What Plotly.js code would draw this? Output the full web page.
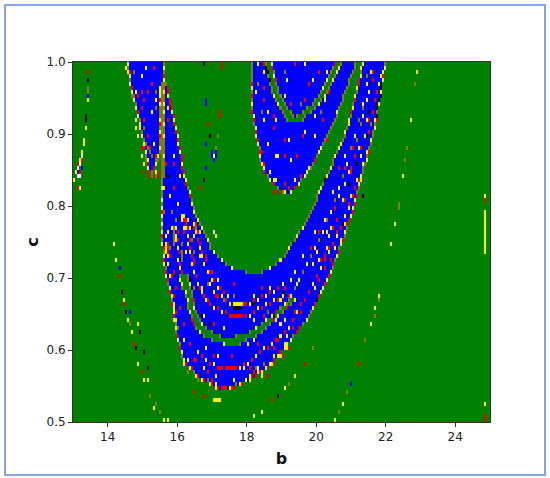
<!DOCTYPE html>
<html>
<head>
<meta charset="utf-8">
<script src="https://cdn.plot.ly/plotly-3.0.1.min.js"></script>
<style>
  html, body { margin: 0; padding: 0; background: #fff; }
  #frame { position: absolute; left: 4px; top: 4px; width: 538px; height: 468px; border: 2px solid #86a3e2; }
  #chart { position: absolute; left: 0; top: 0; width: 550px; height: 478px; }
</style>
</head>
<body>
<div id="chart"></div>
<div id="frame"></div>
<script>
// regime map: cell grid over b 13..25, c 1.0..0.5
const colCount = 208;
const rowCount = 90;
const bStart = 13, bEnd = 25;
const cTop = 1.0, cBottom = 0.5;

// state 0 green, 1 blue, 2 yellow, 3 red, 4 olive, 5 black, 6 white
const stateColours = ["#008000", "#0000ff", "#f4f400", "#f00000", "#808000", "#000000", "#ffffff"];
const edgeLetters = { Y: 2, R: 3, O: 4, K: 5 };

// blue runs (first-last column) of each row, top row first
const blueRuns = [
  "27-45 89-96 99-130 133-140 144-155",
  "27-45 89-96 99-129 132-140 143-155",
  "27-45 89-97 100-128 131-139 143-154",
  "28-45 89-97 100-127 130-138 143-154",
  "28-45 89-98 101-126 129-137 142-154",
  "28-44 45-46 89-98 101-125 128-137 142-153",
  "29-43 45-47 89-99 102-124 127-136 141-153",
  "29-43 45-47 89-99 102-123 126-135 141-153",
  "30-43 45-47 89-100 103-122 125-134 140-153",
  "30-43 45-48 89-101 104-120 123-134 140-152",
  "31-43 45-48 89-102 105-119 122-133 139-152",
  "31-43 45-49 89-103 106-116 120-132 139-151",
  "32-43 45-49 89-104 108-114 118-131 138-151",
  "32-43 45-50 90-105 109-111 115-131 138-151",
  "33-43 45-50 90-106 114-130 137-151",
  "33-43 45-50 90-129 137-150",
  "33-43 45-51 91-128 136-150",
  "34-43 45-51 91-127 135-149",
  "34-43 45-52 91-126 135-149",
  "35-43 45-52 92-125 134-148",
  "35-43 45-52 92-124 133-148",
  "35-43 45-53 93-123 132-147",
  "36-43 45-53 93-122 131-147",
  "36-42 45-54 93-121 130-146",
  "37-42 45-54 93-120 129-146",
  "37-41 45-54 94-119 129-145",
  "37-40 45-54 95-118 128-144",
  "38-39 41-42 45-55 95-116 127-144",
  "38-39 41-42 45-55 97-115 126-143",
  "44-56 98-113 125-143",
  "44-56 100-112 124-142",
  "44-57 102-110 123-142",
  "44-58 104-108 122-141",
  "44-58 121-141",
  "44-59 121-140",
  "44-59 120-140",
  "44-60 119-139",
  "44-60 118-139",
  "44-61 117-138",
  "44-62 116-137",
  "44-63 115-136",
  "44-64 114-136",
  "44-65 112-135",
  "44-66 111-135",
  "44-67 110-134",
  "44-68 108-133",
  "45-68 107-132",
  "45-70 106-132",
  "45-72 105-131",
  "45-74 103-130",
  "45-76 101-129",
  "46-79 98-129",
  "46-86 94-128",
  "46-53 57-127",
  "47-53 57-126",
  "47-54 58-125",
  "48-54 58-124",
  "48-56 59-123",
  "49-56 59-122",
  "49-57 60-107 110-121",
  "49-57 60-105 108-120",
  "50-57 60-103 106-119",
  "50-58 61-101 104-118",
  "50-59 62-99 102-117",
  "50-59 63-96 100-116",
  "51-60 64-94 98-114",
  "51-61 66-91 96-112",
  "51-63 69-88 94-111",
  "52-65 73-81 91-109",
  "52-69 86-108",
  "53-75 83-106",
  "53-105",
  "54-103",
  "54-102",
  "55-100",
  "56-98",
  "58-96",
  "60-94",
  "62-91",
  "65-88",
  "68-84",
  "72-80"
];

// colour of the end cells of each run above, in order, read along the blue edges
const edgeColours = [
  "YO OO YR OO YO", "OY OK RO YO YY", "YO OK OO YO OY", "YR OO YO OO YK",
  "OY OK RY YO RY", "YO OO RO OO OO RK", "RY OR YO OY OO YK", "YO YR OO OO OO OY",
  "OY OY RY OO YO YK", "YR OR OO OO OO RK", "OY YR YY OO YO OY", "YO OR OO OO OO YK",
  "RO YY RO OO OY RO", "YO OR YO OO OO OK", "OY OY RO OO YK", "YR YR OO YO YK",
  "YO OY YO OY RY", "OY OR RO YO OK", "YR YY YO OO YK", "OO OR RO OY OK",
  "YO OY YO YO RY", "RY OR OY YO YK", "YO OY RY OY OY", "OY YR YO YO OK",
  "YO OR OY OY YK", "RY OY YO OO RK", "YR OR YO YO OY", "RO YR OR RY OO YK",
  "RO OR OY OY YK", "OY YO KY YY", "OR RY OY OK", "YO OR YO OY",
  "OY OY YO YO YK", "OR OY YK", "YO OY YO", "OY OR OY",
  "YO OY YO", "RY OR OK", "YO OY OY", "OY OR YK",
  "YO OR OY", "OY YO OY", "YO OY OK", "RO YO YY",
  "OY OR OK", "YO OY OY", "RO YO OY", "OY OR YK",
  "YO OY OY", "RY YO OK", "YO OR YK", "OY YO OY",
  "RO OY YK", "YO OR OK", "RY OY YK", "OY YR OY",
  "YO OY OK", "RY OY YK", "YO OR OY", "OY YO YK OY",
  "RO OY OR OK", "YO YO RY YY", "OY OR OO OK", "RO OY YO YK",
  "YO OY RY OY", "OR YO OO YK", "YO OY OY YR", "OY OO OR YK",
  "RO OO OO OY", "YO OY OK", "OY OY YK", "RY YK",
  "YO RK", "OY YK", "YR OR", "RY YK", "YO RK", "RY YK",
  "YR YK", "RY OR", "YO YK", "RR"
];

const yellowCells = "0,29 2,26 3,24 4,22 1,27 3,31 5,19 5,20 7,9 6,16 26,1 36,1 34,3 31,7 43,7 29,8 41,9 39,12 31,14 31,16 32,18 40,20 34,23 35,25 " +
  "47,11 50,23 53,28 45,31 48,33 52,35 49,37 54,38 57,39 60,40 58,41 63,42 49,41 47,42 " +
  "92,0 95,2 91,7 100,8 97,12 95,14 97,20 102,23 98,27 100,29 102,32 115,0 106,4 119,4 126,2 105,8 113,10 125,9 120,13 101,14 115,17 120,18 107,19 101,23 108,24 122,22 117,26 110,29 101,29 105,32 " +
  "146,5 152,5 147,7 146,9 144,11 144,13 143,15 141,19 145,18 143,23 135,23 144,25 143,28 135,30 129,32 132,33 137,36 135,40 125,39 120,42 127,43 126,42 130,46 121,47 114,48 119,50 110,52 108,54 120,56 111,55 103,59 105,64 101,64 103,65 106,68 105,70 " +
  "46,43 47,50 48,56 50,60 51,64 52,66 55,69 57,74 65,76 65,79 71,80 80,79 86,79 85,76 92,76 54,45 60,43 56,47 63,48 65,50 72,54 68,55 64,56 75,59 90,58 98,56 100,59 90,64 65,63 75,66 66,71 72,73 87,70 90,69 100,73 64,73 71,78 94,78 " +
  "80-84,60 70,57 74,58 78,60 88,60 92,59 96,58 100,57 104,55 66,59 70,61 74,62 88,63 92,61 96,60 100,59 104,58 62,72 66,74 70,75 83,76 87,75 91,73 95,71 99,70 103,68 107,66 111,62 115,59 119,55 123,51 127,47 131,43 135,38 " +
  "108,58 112,54 116,50 120,46 124,42 128,37 132,31 136,25 140,18 144,10 " +
  "70-73,84 70,42 71,43 20,45 21,49 25,59 27,64 29,67 32,75 35,79 40,86 45,89 32,65 37,79 47,89 90,88 94,87 105,81 110,78 130,89 134,85 142,75 148,65 150,61 152,58 158,45 160,40 " +
  "205,37-47 205,33 205,85 205,88 164,28 168,14 171,2 " +
  // stripes down the left arm of the big U, broken into dots
  "51,41 51,43-44 52,46 52,49 53,51 55,38-39 55,41 57,43 57,45 58,47 59,50 60,52 62,55 64,57 66,59 60,40 61,42 62,44 63,46 64,48 65,50 67,52 69,54 72,56 77,58 " +
  "46,45-47 47,48 48,53 49,58 50,62 54,39 56,41 " +
  // outer band round the bottom of the U
  "55,75 58,76 61,78 64,79 68,80 71,81 78,81 83,80 88,78 92,77 96,76 99,75 103,73 106,71 " +
  // right arm of the U, dense spots
  "148,2 153,3 150,14 146,14 142,21 146,22 137,27 141,29 134,34 138,33 128,41 133,44 126,46 122,49";
const redCells = "2,25 3,27 4,24 2,31 7,2 28,2 40,1 39,5 34,7 37,7 32,8 35,9 34,11 35,14 37,18 38,21 34,21 41,23 40,26 35,27 " +
  "47,14 50,25 46,25 50,31 60,41 55,42 " +
  "95,0 92,5 95,6 95,9 94,12 100,13 100,16 94,22 95,25 100,32 110,0 105,2 117,5 122,2 127,7 108,10 115,9 123,12 124,14 100,16 114,18 105,19 126,19 105,23 111,23 120,24 113,28 105,30 102,32 107,31 " +
  "149,4 151,7 150,9 149,12 148,15 147,17 139,21 140,23 138,26 135,26 132,26 140,31 141,33 130,36 131,39 122,42 131,42 118,46 125,48 128,49 125,51 122,54 105,56 107,58 115,59 110,62 113,62 109,66 112,66 102,69 100,71 " +
  "48,46 50,52 51,56 53,61 55,65 58,70 61,74 62,79 69,79 76,81 84,80 90,77 88,76 58,44 62,44 60,49 66,48 69,52 80,55 60,56 71,58 80,58 85,60 94,56 95,63 97,62 60,59 70,65 59,64 70,73 79,73 92,70 103,72 67,77 77,76 97,78 60,74 " +
  "78-84,63 72,58 76,59 86,60 90,59 94,58 98,57 102,56 68,60 72,61 76,62 86,63 90,62 94,61 98,60 102,59 64,73 68,75 72-74,76 76-81,76 85,75 89,74 93,72 97,71 101,69 105,67 109,64 113,60 117,57 121,53 125,49 129,45 133,41 137,35 " +
  "73,12-13 74,0-1 67,15 63,31 60,82 65,83 23,53 25,60 30,70 34,77 115,75 99,84 142,75 205,34 205,88-89 " +
  "52,42 52,44 53,47 53,50 54,52 56,39-40 58,44 58,46 59,48 60,50 61,53 63,56 65,58 67,59 61,40 62,42 63,45 64,47 66,49 68,52 70,54 73,56 75,57 " +
  "47,45-47 48,48 49,53 50,58 51,62 55,39 57,41 " +
  "56,75 59,76 62,78 65,79 69,80 74-75,81 79,81 84,80 89,78 93,77 97,76 100,75 104,73 107,71 " +
  "149,2 154,3 151,14 147,14 143,21 147,22 138,27 142,29 135,34 139,33 129,41 134,44 127,46 123,49";
const oliveCells = "44,6-29 7,6-7 30,2 41,7 29,8 45,37 51,39 61,41 47,28 49,37 " +
  "36,20 37,21 38,22 39,23 36,24 41,24 35,16 41,11 " +
  "92,5 94,12 105,2 113,10 123,12 143,15 148,15 144,11 141,19 " +
  "48,46 54,45 60,56 80,58 97,62 75,59 52,66 62,79 " +
  "106,60 110,56 114,52 118,48 122,44 126,39 130,34 134,28 138,21 142,14 146,3 72,18 71,21 170,5 166,21 165,24 162,35 162,36 136,82 150,63 152,59 145,69 132,87 119,71 102,83 107,80 28,65 38,83 43,87 41,85 " +
  "50,41-45 54,47-49 59,44 60,47 67,55 57,77 60,77 67,79 81,80 91,76 95,75";
const blackCells = "6,13-14 7,4 65,0 68,18 65,29 24,57 26,62 31,71 33,67 35,72 37,76 102,83 47,28 104,57 147,12 144,33 " +
  "151,10 146,18 141,25 137,30 134,40 58,54 68,65 80,61 81,61 82,61 83,61 64,63 100,63 90,60";
const whiteCells = "2,26 2,28 3,28 3,25 4,23 70,23 70,42";
const blueCells = "66,9-10 66,20 66,26 69,22 71,22 69,23 71,23 70,24 7,8 23,51 28,62 138,80 2,27 4,26";

const colourLists = [[1, blueCells], [2, yellowCells], [3, redCells], [4, oliveCells], [5, blackCells], [6, whiteCells]];

const dB = (bEnd - bStart) / colCount;
const dC = (cTop - cBottom) / rowCount;
const bCells = Array.from({ length: colCount }, (_, k) => bStart + (k + 0.5) * dB);
const cCells = Array.from({ length: rowCount }, (_, r) => cTop - (r + 0.5) * dC);

const z = cCells.map(() => new Array(colCount).fill(0));

blueRuns.forEach((row, r) => {
    const ends = edgeColours[r].replace(/ /g, "");
    row.split(" ").forEach((run, i) => {
        const [a, b] = run.split("-").map(Number);
        for (let k = a; k <= b; k++) z[r][k] = 1;
        if (ends[2 * i]) z[r][a] = edgeLetters[ends[2 * i]];
        if (ends[2 * i + 1]) z[r][b] = edgeLetters[ends[2 * i + 1]];
    });
});

function span(text) {
    const [a, b] = text.split("-").map(Number);
    return [a, b === undefined ? a : b];
}

colourLists.forEach(([state, cells]) => {
    cells.trim().split(/\s+/).forEach(cell => {
        const [kPart, rPart] = cell.split(",");
        const [k0, k1] = span(kPart);
        const [r0, r1] = span(rPart);
        for (let r = r0; r <= r1; r++) {
            for (let k = k0; k <= k1; k++) z[r][k] = state;
        }
    });
});

// one flat band per state
const n = stateColours.length;
const colorscale = [];
stateColours.forEach((c, i) => {
    colorscale.push([i / n, c]);
    colorscale.push([(i + 1) / n, c]);
});

const traces = [{
    type: "heatmap",
    x: bCells,
    y: cCells,
    z: z,
    zmin: -0.5,
    zmax: n - 0.5,
    colorscale: colorscale,
    showscale: false,
    hoverinfo: "skip"
}];

const axisFont = { family: "DejaVu Sans", size: 12, color: "#222" };

const layout = {
    width: 550,
    height: 478,
    showlegend: false,
    paper_bgcolor: "#fff",
    plot_bgcolor: "#008000",
    margin: { l: 73, r: 60, t: 62, b: 56 },
    xaxis: {
        title: { text: "<b>b</b>", font: { family: "DejaVu Sans", size: 16, color: "#111" }, standoff: 9 },
        range: [bStart, bEnd],
        tickvals: [14, 16, 18, 20, 22, 24],
        ticks: "outside",
        ticklen: 4,
        tickcolor: "#333",
        tickfont: axisFont,
        showgrid: false,
        zeroline: false,
        showline: true,
        linecolor: "#333",
        mirror: true
    },
    yaxis: {
        title: { text: "<b>c</b>", font: { family: "DejaVu Sans", size: 16, color: "#111" }, standoff: 3 },
        range: [cBottom, cTop],
        tickvals: [0.5, 0.6, 0.7, 0.8, 0.9, 1.0],
        ticktext: ["0.5", "0.6", "0.7", "0.8", "0.9", "1.0"],
        ticks: "outside",
        ticklen: 4,
        tickcolor: "#333",
        tickfont: axisFont,
        showgrid: false,
        zeroline: false,
        showline: true,
        linecolor: "#333",
        mirror: true
    }
};

Plotly.newPlot("chart", traces, layout, { displayModeBar: false, staticPlot: true });
</script>
</body>
</html>
